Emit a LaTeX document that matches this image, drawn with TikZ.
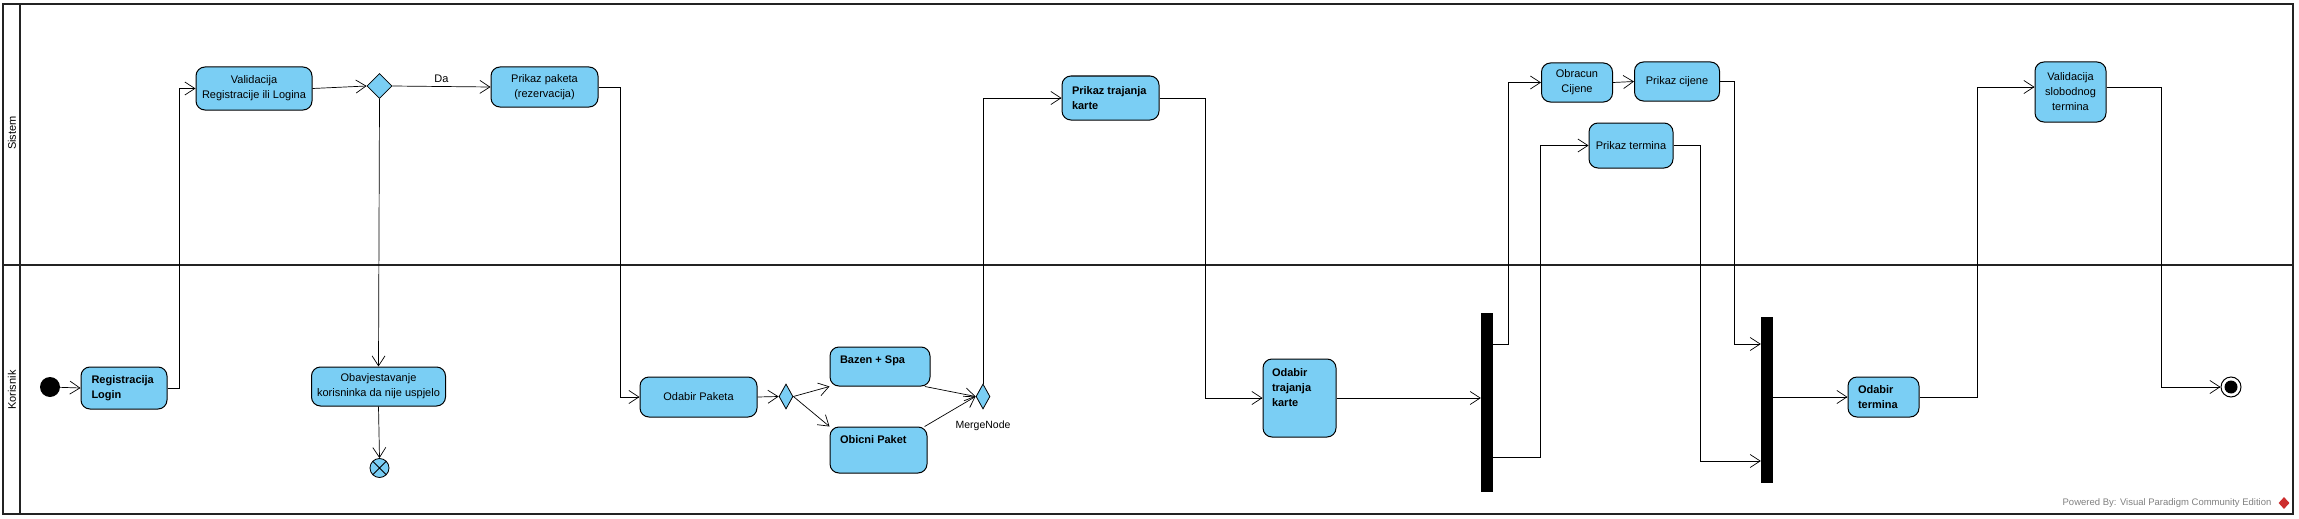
\documentclass[tikz,border=0pt]{standalone}
\usepackage{fontspec}
\setmainfont{Liberation Sans}
\usepackage{tikz}
\usetikzlibrary{arrows.meta,shapes.geometric,positioning,calc}
\definecolor{actblue}{RGB}{122,206,244}
\definecolor{framegray}{RGB}{35,35,35}
\definecolor{vpred}{RGB}{205,45,45}
\tikzset{
    actnode/.style={
        draw=black,
        fill=actblue,
        line width=1pt,
        rounded corners=9pt,
        inner sep=0pt,
        align=center,
        font=\fontsize{11}{15}\selectfont
    },
    decnode/.style={
        diamond,
        draw=black,
        fill=actblue,
        line width=0.8pt,
        inner sep=0pt
    },
    barnode/.style={
        rectangle,
        fill=black,
        inner sep=0pt,
        minimum width=12pt
    },
    % connectors between the actions
    flowarrow/.style={
        line width=0.7pt,
        black,
        ->,
        >={Straight Barb[length=10pt, width=13pt]}
    },
    lanefr/.style={
        line width=2pt,
        framegray
    }
}

\begin{document}
\begin{tikzpicture}[x=1pt, y=-1pt]
        \useasboundingbox (0,0) rectangle (2299,519);

        \draw[lanefr] (3,4) rectangle (2293,514);
        \draw[lanefr] (20,4) to (20,514);
        \draw[lanefr] (3,264.5) to (2293,264.5);
        \node[rotate=90, font=\fontsize{11}{13}\selectfont] (laneSis) at (12,133) {Sistem};
        \node[rotate=90, font=\fontsize{11}{13}\selectfont] (laneKor) at (12,390) {Korisnik};

        % Korisnik
        \node[circle, fill=black, inner sep=0pt, minimum size=20pt] (start) at (50,387) {};
        \node[actnode, minimum width=86pt, minimum height=42pt] (regLogin) at (124,388)
            {\parbox{65pt}{\bfseries Registracija\\Login}};
        \node[actnode, minimum width=134pt, minimum height=39pt] (obavj) at (378.5,386.5)
            {Obavjestavanje\\korisninka da nije uspjelo};
        \node[circle, draw=black, fill=actblue, line width=0.8pt, inner sep=0pt, minimum size=19pt,
            path picture={\draw[line width=0.8pt] (path picture bounding box.north west) to (path picture bounding box.south east)
            (path picture bounding box.south west) to (path picture bounding box.north east);}] (flowEnd) at (379.5,468) {};
        \node[actnode, minimum width=117pt, minimum height=40pt] (odabirPak) at (698.5,397) {Odabir Paketa};
        \node[decnode, minimum width=14pt, minimum height=25pt] (dec2) at (786,396.5) {};
        \node[actnode, minimum width=100pt, minimum height=39pt] (bazen) at (880,366.5)
            {\parbox[c][21pt][t]{80pt}{\bfseries Bazen + Spa}};
        \node[actnode, minimum width=97pt, minimum height=46pt] (obicni) at (878.5,450)
            {\parbox[c][28pt][t]{77pt}{\bfseries Obicni Paket}};
        \node[decnode, minimum width=14pt, minimum height=25pt] (merge) at (983,396.5) {};
        \node[below=8pt of merge, font=\fontsize{10.5}{12}\selectfont] (mergeLbl) {MergeNode};
        \node[actnode, minimum width=73pt, minimum height=78pt] (odabirTraj) at (1299.5,398)
            {\parbox[c][58pt][t]{55pt}{\bfseries Odabir\\trajanja\\karte}};
        \node[barnode, minimum height=179pt] (fork1) at (1487,402.5) {};
        \node[barnode, minimum height=166pt] (join) at (1767,400) {};
        \node[actnode, minimum width=71pt, minimum height=40pt] (odabirTerm) at (1883.5,397)
            {\parbox{51pt}{\bfseries Odabir\\termina}};
        \node[circle, draw=black, fill=white, line width=1pt, inner sep=0pt, minimum size=20pt,
            path picture={\fill[black] (path picture bounding box.center) circle (6.5pt);}] (final) at (2231,387) {};

        % Sistem
        \node[actnode, minimum width=116pt, minimum height=43pt] (valReg) at (254,88.5)
            {Validacija\\Registracije ili Logina};
        \node[decnode, minimum width=25pt, minimum height=25pt] (dec1) at (379.5,86) {};
        \node[actnode, minimum width=107pt, minimum height=40pt] (prikPak) at (544.5,87)
            {Prikaz paketa\\(rezervacija)};
        \node[actnode, minimum width=97pt, minimum height=44pt] (prikTraj) at (1110.5,98)
            {\parbox{77pt}{\bfseries Prikaz trajanja\\karte}};
        \node[actnode, minimum width=71pt, minimum height=39pt] (obracun) at (1577,82.5) {Obracun\\Cijene};
        \node[actnode, minimum width=85pt, minimum height=39pt] (prikCij) at (1677,81.5) {Prikaz cijene};
        \node[actnode, minimum width=84pt, minimum height=45pt] (prikTerm) at (1631,145.5) {Prikaz termina};
        \node[actnode, minimum width=71pt, minimum height=60pt] (valSlob) at (2070.5,92)
            {Validacija\\slobodnog\\termina};

        \node[text=gray, font=\fontsize{9.5}{11}\selectfont] (vpNote) at (2167,503)
            {Powered By: Visual Paradigm Community Edition};
        \node[diamond, fill=vpred, inner sep=0pt, minimum width=11pt, minimum height=12pt] (vpLogo) at (2284,503) {};

        \draw[flowarrow] (start) to (regLogin.west);
        \draw[flowarrow] (regLogin.east) -- ++(12,0) |- (valReg.west);
        \draw[flowarrow] (valReg.east) to (dec1.west);
        \draw[flowarrow] (dec1.east) to node[above, font=\fontsize{11}{13}\selectfont] (daLbl) {Da} (prikPak.west);
        \draw[flowarrow] (dec1.south) to (obavj.north);
        \draw[flowarrow] (obavj.south) to (flowEnd.north);
        \draw[flowarrow] (prikPak.east) -- ++(22,0) |- (odabirPak.west);
        \draw[flowarrow] (odabirPak.east) to (dec2.west);
        \draw[flowarrow] (dec2.east) to (bazen.south west);
        \draw[flowarrow] (dec2.east) to (obicni.north west);
        \draw[flowarrow] (bazen.-24) to (merge.west);
        \draw[flowarrow] (obicni.27) to (merge.west);
        \draw[flowarrow] (merge.north) |- (prikTraj.west);
        \draw[flowarrow] (prikTraj.east) -- ++(46,0) |- (odabirTraj.west);
        \draw[flowarrow] (odabirTraj.east) to (odabirTraj.east -| fork1.west);
        \draw[flowarrow] (fork1.east |- 0,344) -- ++(15,0) |- (obracun.west);
        \draw[flowarrow] (fork1.east |- 0,457) -- ++(47,0) |- (prikTerm.west);
        \draw[flowarrow] (obracun.east) to (prikCij.west);
        \draw[flowarrow] (prikCij.east) -- ++(14,0) |- (join.west |- 0,344);
        \draw[flowarrow] (prikTerm.east) -- ++(27,0) |- (join.west |- 0,461);
        \draw[flowarrow] (join.east |- odabirTerm.west) to (odabirTerm.west);
        \draw[flowarrow] (odabirTerm.east) -- ++(58,0) |- ($(valSlob.west)+(0,-5)$);
        \draw[flowarrow] ($(valSlob.east)+(0,-5)$) -- ++(55,0) |- (final.west);

\end{tikzpicture}
\end{document}
